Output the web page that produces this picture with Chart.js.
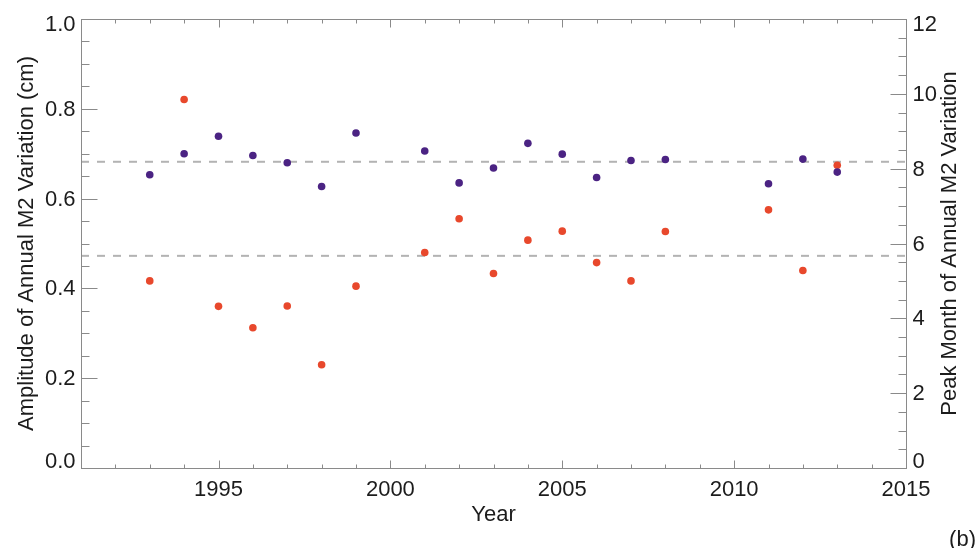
<!DOCTYPE html>
<html lang="en">
<head>
<meta charset="UTF-8">
<title>Annual M2 Variation</title>
<script src="https://cdn.jsdelivr.net/npm/chart.js@4.4.1/dist/chart.umd.min.js"></script>
<style>
    html, body { margin: 0; padding: 0; background: #fff; }
    #wrap { width: 977px; height: 548px; }
</style>
</head>
<body>
<div id="wrap"><canvas id="m2Chart" width="977" height="548"></canvas></div>
<script>
    // values
    const years = [1993, 1994, 1995, 1996, 1997, 1998, 1999, 2001, 2002, 2003, 2004, 2005, 2006, 2007, 2008, 2011, 2012, 2013];
    const amplitude = [0.653, 0.700, 0.739, 0.696, 0.680, 0.627, 0.746, 0.706, 0.635, 0.668, 0.723, 0.699, 0.647, 0.685, 0.687, 0.633, 0.688, 0.659];
    const peakMonth = [5.00, 9.85, 4.32, 3.75, 4.33, 2.76, 4.86, 5.76, 6.66, 5.20, 6.09, 6.33, 5.49, 5.00, 6.32, 6.90, 5.28, 8.09];
    const meanAmplitude = 0.682;
    const meanPeakMonth = 5.67;
    const yearRange = [1991, 2015];
    const ampRange = [0, 1];
    const monthRange = [0, 12];

    const FONT = '"Liberation Sans", Arial, Helvetica, sans-serif';
    const AXIS_GREY = '#8a8a8a';
    const TEXT = '#1c1c1c';
    const PURPLE = '#4b2383';
    const RED = '#e8482c';
    const DASH_GREY = '#b3b3b3';

    function seg(ctx, x1, y1, x2, y2) {
        ctx.beginPath();
        ctx.moveTo(x1, y1);
        ctx.lineTo(x2, y2);
        ctx.stroke();
    }

    // box, inward ticks, y labels and titles (IDL style)
    const frame = {
        id: 'frame',
        afterDraw(chart) {
            const { ctx, chartArea: a, scales } = chart;
            const L = Math.round(a.left) + 0.5, R = Math.round(a.right) + 0.5;
            const T = Math.round(a.top) + 0.5, B = Math.round(a.bottom) + 0.5;
            ctx.save();
            ctx.strokeStyle = AXIS_GREY;
            ctx.lineWidth = 1;
            ctx.strokeRect(L, T, R - L, B - T);

            scales.x.ticks.forEach(t => {
                const px = Math.round(scales.x.getPixelForValue(t.value)) + 0.5;
                const len = t.value % 5 === 0 ? 8 : 4;
                seg(ctx, px, B, px, B - len);
                seg(ctx, px, T, px, T + len);
            });

            ctx.font = '22px ' + FONT;
            ctx.fillStyle = TEXT;
            ctx.textBaseline = 'middle';

            scales.y.ticks.forEach(t => {
                const py = Math.round(scales.y.getPixelForValue(t.value)) + 0.5;
                const major = Math.abs(t.value * 5 - Math.round(t.value * 5)) < 1e-6;
                seg(ctx, L, py, L + (major ? 16 : 8), py);
                if (major) {
                    ctx.textAlign = 'right';
                    const ly = Math.min(Math.max(py, a.top + 6), a.bottom - 6);
                    ctx.fillText(t.value.toFixed(1), L - 6, ly);
                }
            });

            scales.y2.ticks.forEach(t => {
                const py = Math.round(scales.y2.getPixelForValue(t.value)) + 0.5;
                const major = t.value % 2 === 0;
                seg(ctx, R, py, R - (major ? 16 : 8), py);
                if (major) {
                    ctx.textAlign = 'left';
                    const ly = Math.min(Math.max(py, a.top + 6), a.bottom - 6);
                    ctx.fillText(String(t.value), R + 6, ly);
                }
            });

            const cy = (a.top + a.bottom) / 2;
            ctx.textAlign = 'center';
            ctx.textBaseline = 'alphabetic';
            ctx.fillText('Year', (a.left + a.right) / 2, 521);

            ctx.save();
            ctx.translate(33, cy);
            ctx.rotate(-Math.PI / 2);
            ctx.fillText('Amplitude of Annual M2 Variation (cm)', 0, 0);
            ctx.restore();

            ctx.save();
            ctx.translate(956, cy);
            ctx.rotate(-Math.PI / 2);
            ctx.fillText('Peak Month of Annual M2 Variation', 0, 0);
            ctx.restore();

            ctx.textAlign = 'right';
            ctx.fillText('(b)', 976, 546);
            ctx.restore();
        }
    };

    const pts = vals => years.map((yr, i) => ({ x: yr, y: vals[i] }));
    const flat = v => [{ x: yearRange[0], y: v }, { x: yearRange[1], y: v }];

    new Chart(document.getElementById('m2Chart'), {
        type: 'scatter',
        data: {
            datasets: [
                {
                    label: 'Amplitude',
                    data: pts(amplitude),
                    yAxisID: 'y',
                    backgroundColor: PURPLE,
                    borderWidth: 0,
                    pointRadius: 3.8,
                    order: 0
                },
                {
                    label: 'Peak month',
                    data: pts(peakMonth),
                    yAxisID: 'y2',
                    backgroundColor: RED,
                    borderWidth: 0,
                    pointRadius: 3.8,
                    order: 1
                },
                {
                    label: 'Mean amplitude',
                    data: flat(meanAmplitude),
                    yAxisID: 'y',
                    showLine: true,
                    borderColor: DASH_GREY,
                    borderWidth: 2,
                    borderDash: [8, 8],
                    pointRadius: 0,
                    order: 2
                },
                {
                    label: 'Mean peak month',
                    data: flat(meanPeakMonth),
                    yAxisID: 'y2',
                    showLine: true,
                    borderColor: DASH_GREY,
                    borderWidth: 2,
                    borderDash: [8, 8],
                    pointRadius: 0,
                    order: 2
                }
            ]
        },
        options: {
            responsive: false,
            animation: false,
            layout: { padding: { top: 19, left: 0, right: 0, bottom: 0 } },
            plugins: {
                legend: { display: false },
                tooltip: { enabled: false }
            },
            scales: {
                x: {
                    type: 'linear',
                    position: 'bottom',
                    min: yearRange[0],
                    max: yearRange[1],
                    grid: { display: false, drawTicks: false },
                    border: { display: false },
                    ticks: {
                        stepSize: 1,
                        maxTicksLimit: 100,
                        autoSkip: false,
                        maxRotation: 0,
                        padding: 9,
                        color: TEXT,
                        font: { family: FONT, size: 22 },
                        callback: v => (v % 5 === 0 ? String(v) : '')
                    },
                    afterFit: s => { s.height = 80; }
                },
                y: {
                    position: 'left',
                    min: ampRange[0],
                    max: ampRange[1],
                    grid: { display: false, drawTicks: false },
                    border: { display: false },
                    ticks: { stepSize: 0.05, maxTicksLimit: 100, display: false },
                    afterFit: s => { s.width = 81; }
                },
                y2: {
                    position: 'right',
                    min: monthRange[0],
                    max: monthRange[1],
                    grid: { display: false, drawTicks: false },
                    border: { display: false },
                    ticks: { stepSize: 0.5, maxTicksLimit: 100, display: false },
                    afterFit: s => { s.width = 71; }
                }
            }
        },
        plugins: [frame]
    });
</script>
</body>
</html>
